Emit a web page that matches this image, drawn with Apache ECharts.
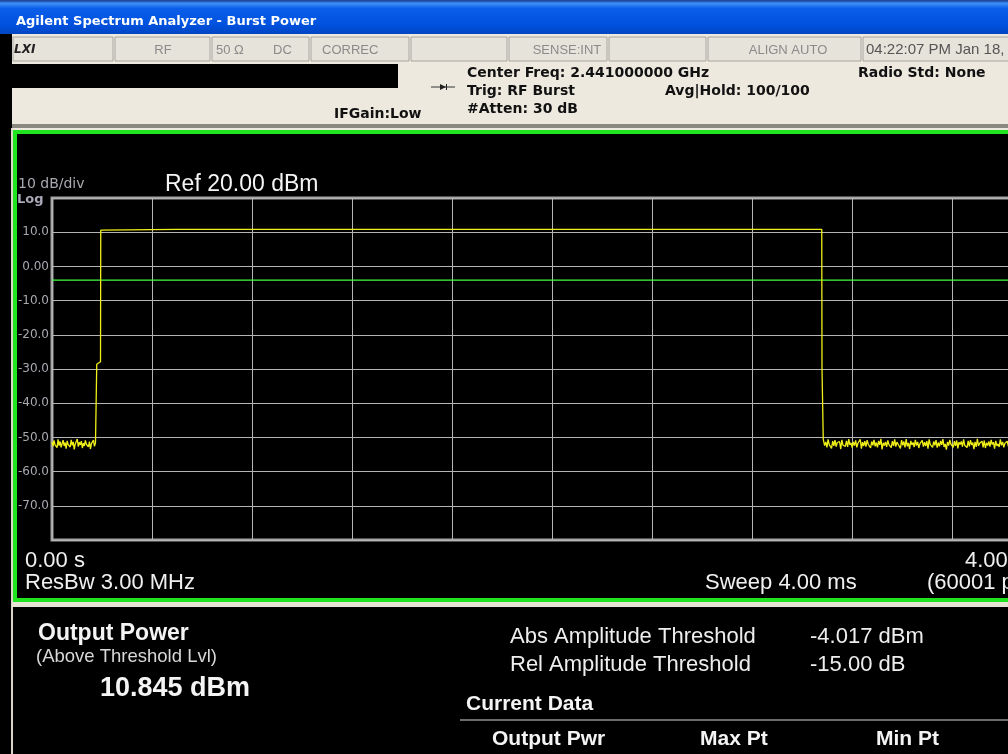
<!DOCTYPE html>
<html><head><meta charset="utf-8">
<style>html,body{margin:0;padding:0;background:#000;overflow:hidden;width:1008px;height:754px}#c{width:1060px;height:754px}</style>
<script src="https://cdn.jsdelivr.net/npm/echarts@6/dist/echarts.min.js"></script>
</head><body><div id="c"></div>
<script>
// ---- data (time in ms, level in dBm) ----
const yTickValues = [20, 10, 0, -10, -20, -30, -40, -50, -60, -70, -80];
const yTickLabels = ['', '10.0', '0.00', '-10.0', '-20.0', '-30.0', '-40.0', '-50.0', '-60.0', '-70.0', ''];
const noiseLeftStart = 0.0, noiseLeftEnd = 0.178;
const noiseLeft = [-51.4,-52.6,-50.9,-52.2,-51.7,-53.0,-50.6,-52.4,-51.2,-52.9,-51.8,-50.8,-52.5,-51.5,-53.3,-51.0,-52.1,-51.6,-52.8,-50.7,
 -52.3,-51.3,-53.5,-51.9,-52.0,-50.5,-52.7,-51.4,-52.2,-51.1,-53.1,-51.7,-52.5,-50.9,-52.0,-51.5,-52.8,-51.2,-53.4,-51.8,
 -52.3,-50.8,-52.6,-51.6,-52.1];
const riseTimes  = [0.179, 0.179, 0.186, 0.194, 0.195, 0.199];
const riseValues = [-51.6, -28.6, -28.3, -27.9, 10.6, 10.85];
const topTimes  = [0.5, 1.0, 1.5, 2.0, 2.5, 3.079];
const topValues = [10.85, 10.85, 10.85, 10.85, 10.85, 10.85];
const fallTimes  = [3.080, 3.080, 3.085, 3.085];
const fallValues = [10.85, -29.8, -29.8, -50.6];
const noiseRightStart = 3.086, noiseRightEnd = 4.0;
const noiseRight = [
 -50.9,-52.4,-51.3,-52.9,-50.6,-52.1,-51.8,-53.2,-51.1,-52.5,-50.8,-52.7,-51.5,-52.0,-51.2,-53.4,-50.7,-52.3,-51.9,-52.6,
 -51.0,-52.8,-50.5,-52.2,-51.6,-53.0,-51.3,-52.4,-50.9,-52.9,-51.7,-52.1,-50.6,-53.3,-51.4,-52.5,-51.1,-52.7,-50.8,-52.0,
 -51.8,-53.1,-51.2,-52.3,-50.7,-52.6,-51.5,-52.9,-51.0,-52.2,-50.4,-53.5,-51.6,-52.4,-51.3,-52.8,-50.9,-52.1,-51.7,-53.0,
 -51.1,-52.5,-50.6,-52.7,-51.4,-52.0,-51.9,-53.2,-50.8,-52.3,-51.2,-52.9,-50.5,-52.6,-51.6,-53.4,-51.0,-52.2,-51.5,-52.8,
 -50.7,-52.4,-51.3,-53.1,-51.8,-52.0,-50.9,-52.7,-51.4,-52.5,-51.1,-53.3,-50.6,-52.1,-51.7,-52.9,-51.2,-52.3,-50.8,-53.0,
 -51.5,-52.6,-51.0,-52.2,-50.5,-52.8,-51.9,-53.6,-51.3,-52.4,-50.7,-52.0,-51.6,-52.9,-51.1,-52.5,-50.9,-53.2,-51.4,-52.1,
 -51.2,-52.7,-50.6,-52.3,-51.8,-53.0,-51.0,-52.6,-50.8,-52.2,-51.5,-53.4,-51.3,-52.8,-50.4,-52.5,-51.7,-52.0,-51.1,-52.9,
 -50.9,-53.1,-51.6,-52.4,-51.2,-52.7,-50.7,-52.1,-51.4,-53.3,-51.0,-52.5,-51.9,-52.8,-50.6,-52.3,-51.3,-52.9,-51.7,-52.0,
 -51.1,-52.6,-50.8,-53.0,-51.5,-52.2,-51.2,-52.8,-50.5,-52.4,-51.8,-53.2,-51.0,-52.1,-51.6,-52.7,-50.9,-52.5,-51.3,-53.4,
 -51.4,-52.0,-50.7,-52.9,-51.9,-52.3,-51.1,-52.6,-50.6,-53.1,-51.5,-52.2,-51.2,-52.8,-50.8,-52.4,-51.7,-53.0,-51.0,-52.5];
const thresholdLevel = -4.017;
const thresholdTimes = [0, 4];

// ---- build trace ----
function spread(vals, t0, t1) {
  const n = vals.length;
  return vals.map((v, i) => [t0 + (t1 - t0) * i / (n - 1), v]);
}
const trace = []
  .concat(spread(noiseLeft, noiseLeftStart, noiseLeftEnd))
  .concat(riseTimes.map((t, i) => [t, riseValues[i]]))
  .concat(topTimes.map((t, i) => [t, topValues[i]]))
  .concat(fallTimes.map((t, i) => [t, fallValues[i]]))
  .concat(spread(noiseRight, noiseRightStart, noiseRightEnd));
const labelMap = {};
yTickValues.forEach((v, i) => { labelMap[v] = yTickLabels[i]; });

const F = 'Liberation Sans, Arial, sans-serif';
const DB = 'bold 14px DejaVu Sans, sans-serif';
const beige = '#ede9df';
const statusBounds = [12, 114, 211, 310, 410, 508, 608, 707, 862, 1060];

const g = [];
// title bar
g.push({type:'rect', shape:{x:0,y:0,width:1060,height:34}, style:{fill:new echarts.graphic.LinearGradient(0,0,0,1,[
  {offset:0,color:'#1a3a8a'},{offset:0.1,color:'#3d8ef8'},{offset:0.25,color:'#0a5ee8'},{offset:0.7,color:'#0052e0'},{offset:1,color:'#0046c4'}])}, z:-5});
g.push({type:'text', x:16, y:22, style:{text:'Agilent Spectrum Analyzer - Burst Power', fill:'#ffffff', font:'bold 13px DejaVu Sans, sans-serif', textVerticalAlign:'middle'}});
// header background
g.push({type:'rect', shape:{x:12,y:34,width:1048,height:96}, style:{fill:beige}, z:-5});
// status cells
for (let i = 0; i < statusBounds.length - 1; i++) {
  g.push({type:'rect', shape:{x:statusBounds[i]+1,y:37,width:statusBounds[i+1]-statusBounds[i]-2,height:24},
    style:{fill:'#e6e3da', stroke:'#a8a6a0', lineWidth:1}, z:-4});
}
const statusTexts = [
  {t:'LXI', x:14, a:'left', f:'bold italic 12px DejaVu Sans, sans-serif', c:'#222'},
  {t:'RF', x:163, a:'center'}, {t:'50 \u03A9', x:216, a:'left'}, {t:'DC', x:273, a:'left'},
  {t:'CORREC', x:322, a:'left'}, {t:'SENSE:INT', x:567, a:'center'}, {t:'ALIGN AUTO', x:788, a:'center'},
  {t:'04:22:07 PM Jan 18, 2011', x:866, a:'left', c:'#555', f:'15px '+F}
];
statusTexts.forEach(s => g.push({type:'text', x:s.x, y:50, style:{text:s.t, fill:s.c||'#8a8a8a',
  font:s.f||('13px '+F), textAlign:s.a, textVerticalAlign:'middle'}}));
// black band
g.push({type:'rect', shape:{x:12,y:64,width:386,height:24}, style:{fill:'#000'}, z:-4});
// header texts
g.push({type:'text', x:467, y:73, style:{text:'Center Freq: 2.441000000 GHz', fill:'#111', font:DB, textVerticalAlign:'middle'}});
g.push({type:'text', x:858, y:73, style:{text:'Radio Std: None', fill:'#111', font:DB, textVerticalAlign:'middle'}});
g.push({type:'text', x:467, y:91, style:{text:'Trig: RF Burst', fill:'#111', font:DB, textVerticalAlign:'middle'}});
g.push({type:'text', x:665, y:91, style:{text:'Avg|Hold: 100/100', fill:'#111', font:DB, textVerticalAlign:'middle'}});
g.push({type:'text', x:467, y:109, style:{text:'#Atten: 30 dB', fill:'#111', font:DB, textVerticalAlign:'middle'}});
g.push({type:'text', x:334, y:114, style:{text:'IFGain:Low', fill:'#111', font:'bold 14px DejaVu Sans, sans-serif', textVerticalAlign:'middle'}});
g.push({type:'line', shape:{x1:431,y1:87,x2:455,y2:87}, style:{stroke:'#333', lineWidth:1}});
g.push({type:'polygon', shape:{points:[[440,84],[446,87],[440,90]]}, style:{fill:'#222'}});
g.push({type:'line', shape:{x1:446.5,y1:84,x2:446.5,y2:90}, style:{stroke:'#222', lineWidth:1}});
// header bottom shadow
g.push({type:'rect', shape:{x:12,y:124,width:1048,height:4}, style:{fill:'#8a8880'}, z:-4});
// left edge light line
g.push({type:'rect', shape:{x:11,y:128,width:2,height:626}, style:{fill:'#d8d4c8'}, z:-4});
// green frame
g.push({type:'rect', shape:{x:15,y:132,width:1100,height:468}, style:{fill:'none', stroke:'#1fe41f', lineWidth:4}, z:-3});
g.push({type:'rect', shape:{x:12,y:602,width:1048,height:5}, style:{fill:'#e6e2d4'}, z:-4});
// chart annotations
g.push({type:'text', x:18, y:184, style:{text:'10 dB/div', fill:'#a8a8b0', font:'14px DejaVu Sans, sans-serif', textVerticalAlign:'middle'}});
g.push({type:'text', x:17, y:200, style:{text:'Log', fill:'#a8a8b8', font:'bold 13px DejaVu Sans, sans-serif', textVerticalAlign:'middle'}});
g.push({type:'text', x:165, y:185, style:{text:'Ref 20.00 dBm', fill:'#f4f4f4', font:'23px '+F, textVerticalAlign:'middle'}});
const fs = '22px ' + F;
g.push({type:'text', x:25, y:561, style:{text:'0.00 s', fill:'#f0f0f0', font:fs, textVerticalAlign:'middle'}});
g.push({type:'text', x:25, y:583, style:{text:'ResBw 3.00 MHz', fill:'#f0f0f0', font:fs, textVerticalAlign:'middle'}});
g.push({type:'text', x:965, y:561, style:{text:'4.000 ms', fill:'#f0f0f0', font:fs, textVerticalAlign:'middle'}});
g.push({type:'text', x:705, y:583, style:{text:'Sweep 4.00 ms', fill:'#f0f0f0', font:fs, textVerticalAlign:'middle'}});
g.push({type:'text', x:927, y:583, style:{text:'(60001 pts)', fill:'#f0f0f0', font:fs, textVerticalAlign:'middle'}});
// bottom panel
g.push({type:'text', x:38, y:634, style:{text:'Output Power', fill:'#f4f4f4', font:'bold 23px '+F, textVerticalAlign:'middle'}});
g.push({type:'text', x:36, y:657, style:{text:'(Above Threshold Lvl)', fill:'#d8d8d8', font:'18.5px '+F, textVerticalAlign:'middle'}});
g.push({type:'text', x:100, y:689, style:{text:'10.845 dBm', fill:'#f4f4f4', font:'bold 27px '+F, textVerticalAlign:'middle'}});
const rf = '22px ' + F, bf = 'bold 21px ' + F;
g.push({type:'text', x:510, y:637, style:{text:'Abs Amplitude Threshold', fill:'#eeeeee', font:rf, textVerticalAlign:'middle'}});
g.push({type:'text', x:510, y:665, style:{text:'Rel Amplitude Threshold', fill:'#eeeeee', font:rf, textVerticalAlign:'middle'}});
g.push({type:'text', x:810, y:637, style:{text:'-4.017 dBm', fill:'#eeeeee', font:rf, textVerticalAlign:'middle'}});
g.push({type:'text', x:810, y:665, style:{text:'-15.00 dB', fill:'#eeeeee', font:rf, textVerticalAlign:'middle'}});
g.push({type:'text', x:466, y:704, style:{text:'Current Data', fill:'#f4f4f4', font:bf, textVerticalAlign:'middle'}});
g.push({type:'line', shape:{x1:460,y1:720,x2:1060,y2:720}, style:{stroke:'#d8d8d8', lineWidth:1}});
g.push({type:'text', x:492, y:739, style:{text:'Output Pwr', fill:'#f4f4f4', font:bf, textVerticalAlign:'middle'}});
g.push({type:'text', x:700, y:739, style:{text:'Max Pt', fill:'#f4f4f4', font:bf, textVerticalAlign:'middle'}});
g.push({type:'text', x:876, y:739, style:{text:'Min Pt', fill:'#f4f4f4', font:bf, textVerticalAlign:'middle'}});

const chart = echarts.init(document.getElementById('c'), null, {renderer:'canvas', width:1060, height:754});
chart.setOption({
  backgroundColor:'#000',
  animation:false,
  grid:{left:52, top:198, width:1000, height:342, show:true, borderColor:'#a4a4a4', borderWidth:3, backgroundColor:'transparent'},
  xAxis:{type:'value', min:0, max:4, interval:0.4, axisLine:{show:false}, axisTick:{show:false}, axisLabel:{show:false},
    splitLine:{show:true, lineStyle:{color:'#b4b4b4', width:1}}},
  yAxis:{type:'value', min:-80, max:20, interval:10, axisLine:{show:false}, axisTick:{show:false},
    axisLabel:{show:true, color:'#a8a8b0', fontSize:12, fontFamily:'DejaVu Sans, sans-serif', margin:3,
      formatter:v => labelMap[v] !== undefined ? labelMap[v] : ''},
    splitLine:{show:true, lineStyle:{color:'#b4b4b4', width:1}}},
  series:[
    {type:'line', data:thresholdTimes.map(t => [t, thresholdLevel]), symbol:'none', silent:true,
      lineStyle:{color:'#40ff40', width:1.3}, z:3},
    {type:'line', data:trace, symbol:'none', silent:true, lineStyle:{color:'#f0f018', width:1.3}, z:4}
  ],
  graphic:{elements:g}
});
</script></body></html>
